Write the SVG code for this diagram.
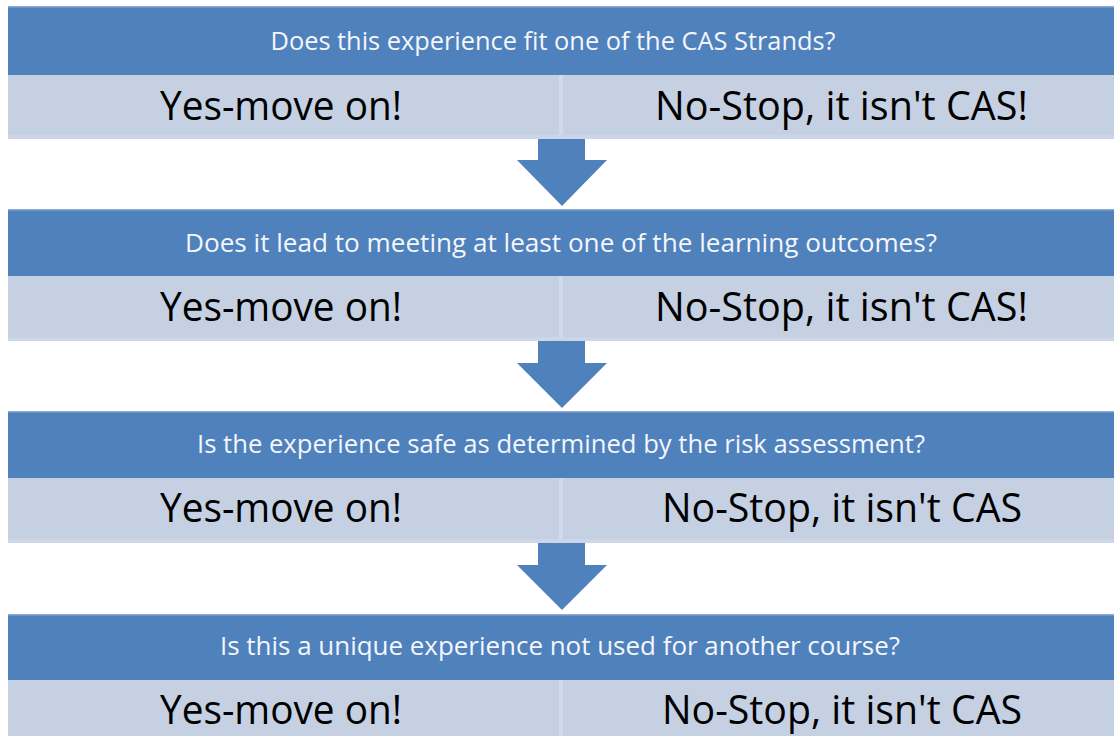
<svg xmlns="http://www.w3.org/2000/svg" width="1114" height="736" viewBox="0 0 1114 736">
<style>
.hdr{fill:#4F81BD}
.hdrline{fill:#8EAAD3}
.row{fill:#C5D0E3}
.rowbot{fill:#CDD6E8}
.div{fill:#D2DAEA}
.q{font-family:"Open Sans","Liberation Sans",sans-serif;font-size:25px;fill:#F4F6FA;text-anchor:middle}
.a{font-family:"Open Sans","Liberation Sans",sans-serif;font-size:41px;fill:#000;text-anchor:middle}
.arr{fill:#4F81BD}
</style>
<rect width="1114" height="736" fill="#fff"/>
<g id="node1">
<rect class="hdr" x="8" y="7" width="1106" height="68"/>
<rect class="hdrline" x="8" y="6" width="1106" height="1.5"/>
<rect class="row" x="8" y="75" width="1106" height="64"/>
<rect class="rowbot" x="8" y="135" width="1106" height="4"/>
<rect class="div" x="559" y="75" width="4" height="60"/>
<text class="q" x="553" y="50" textLength="565" lengthAdjust="spacingAndGlyphs">Does this experience fit one of the CAS Strands?</text>
<text class="a" x="281" y="120" textLength="242" lengthAdjust="spacingAndGlyphs">Yes-move on!</text>
<text class="a" x="841.5" y="120" textLength="373" lengthAdjust="spacingAndGlyphs">No-Stop, it isn't CAS!</text>
</g>
<g id="node2">
<rect class="hdr" x="8" y="210" width="1106" height="66"/>
<rect class="hdrline" x="8" y="209" width="1106" height="1.5"/>
<rect class="row" x="8" y="276" width="1106" height="65"/>
<rect class="rowbot" x="8" y="337" width="1106" height="4"/>
<rect class="div" x="559" y="276" width="4" height="61"/>
<text class="q" x="561" y="252" textLength="752" lengthAdjust="spacingAndGlyphs">Does it lead to meeting at least one of the learning outcomes?</text>
<text class="a" x="281" y="321" textLength="242" lengthAdjust="spacingAndGlyphs">Yes-move on!</text>
<text class="a" x="841.5" y="321" textLength="373" lengthAdjust="spacingAndGlyphs">No-Stop, it isn't CAS!</text>
</g>
<g id="node3">
<rect class="hdr" x="8" y="412" width="1106" height="66"/>
<rect class="hdrline" x="8" y="411" width="1106" height="1.5"/>
<rect class="row" x="8" y="478" width="1106" height="65"/>
<rect class="rowbot" x="8" y="539" width="1106" height="4"/>
<rect class="div" x="559" y="478" width="4" height="61"/>
<text class="q" x="561" y="453" textLength="728" lengthAdjust="spacingAndGlyphs">Is the experience safe as determined by the risk assessment?</text>
<text class="a" x="281" y="522" textLength="242" lengthAdjust="spacingAndGlyphs">Yes-move on!</text>
<text class="a" x="842" y="522" textLength="360" lengthAdjust="spacingAndGlyphs">No-Stop, it isn't CAS</text>
</g>
<g id="node4">
<rect class="hdr" x="8" y="615" width="1106" height="65"/>
<rect class="hdrline" x="8" y="614" width="1106" height="1.5"/>
<rect class="row" x="8" y="680" width="1106" height="56"/>
<rect class="div" x="559" y="680" width="4" height="56"/>
<text class="q" x="560" y="655" textLength="680" lengthAdjust="spacingAndGlyphs">Is this a unique experience not used for another course?</text>
<text class="a" x="281" y="724" textLength="242" lengthAdjust="spacingAndGlyphs">Yes-move on!</text>
<text class="a" x="842" y="724" textLength="360" lengthAdjust="spacingAndGlyphs">No-Stop, it isn't CAS</text>
</g>
<g id="connectors">
<polygon class="arr" points="538,139 585,139 585,160 607,160 562,206 517,160 538,160"/>
<polygon class="arr" points="538,341 585,341 585,363 607,363 562,408 517,363 538,363"/>
<polygon class="arr" points="538,543 585,543 585,565 607,565 562,610 517,565 538,565"/>
</g>
</svg>
